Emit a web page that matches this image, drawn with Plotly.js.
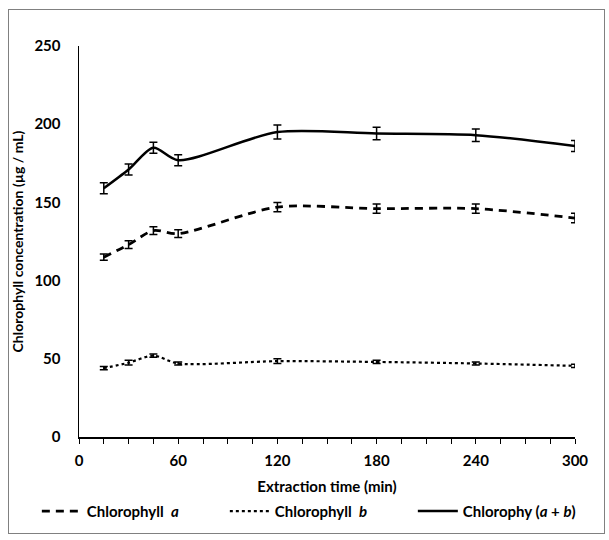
<!DOCTYPE html>
<html><head><meta charset="utf-8">
<script src="https://cdn.plot.ly/plotly-3.0.1.min.js"></script>
<style>
body{margin:0;background:#fff;}
#frame{position:absolute;left:8px;top:9px;width:595px;height:523px;border:1px solid #808080;background:#fff;}
#chart{position:absolute;left:9px;top:10px;width:595px;height:530px;}
</style></head><body>
<div id="frame"></div><div id="chart"></div>
<script>
const time = [15, 30, 45, 60, 120, 180, 240, 300];
const chlA = [115, 123, 132, 130, 147, 146, 146, 140];
const chlAErr = [2, 2.5, 2.5, 2.5, 3, 3, 3, 3];
const chlB = [44, 47.5, 52, 47, 48.5, 48, 47, 45.5];
const chlBErr = [1, 1.5, 1, 1, 1.5, 1, 1, 1];
const chlTotal = [159, 171, 185, 177, 195, 194, 193, 186];
const chlTotalErr = [3.5, 3.5, 3.5, 3.5, 4.5, 4, 4, 3.5];
const names = ['Chlorophyll  <i>a</i>', 'Chlorophyll  <i>b</i>', 'Chlorophy (<i>a</i> + <i>b</i>)'];

const font = "Lato, 'Open Sans', sans-serif";
function tr(y, e, name, dash, w) {
  return {x: time, y: y, name: name, type: 'scatter', mode: 'lines', cliponaxis: false,
    line: {color: '#000', width: w, dash: dash, shape: 'spline', smoothing: 0.8},
    error_y: {type: 'data', array: e, visible: true, color: '#000', thickness: 1.5, width: 4}};
}
const data = [
  tr(chlA, chlAErr, names[0], '8px,6px', 2.8),
  tr(chlB, chlBErr, names[1], 'dot', 2.2),
  tr(chlTotal, chlTotalErr, names[2], 'solid', 2.5)
];
const layout = {
  width: 595, height: 530,
  margin: {l: 70, r: 29, t: 36, b: 103},
  paper_bgcolor: 'rgba(0,0,0,0)', plot_bgcolor: 'rgba(0,0,0,0)',
  font: {family: font, color: '#000', size: 14},
  showlegend: true,
  legend: {orientation: 'h', x: -0.085, xanchor: 'left', y: -0.148, yanchor: 'top', bgcolor: 'rgba(0,0,0,0)',
    font: {family: font, size: 15, color: '#000', weight: 'bold'}, entrywidth: 133, itemwidth: 40},
  xaxis: {range: [0, 300], dtick: 60, tick0: 0, showline: true, linecolor: '#000', linewidth: 1.5,
    ticks: 'outside', ticklen: 5, tickcolor: '#000', showgrid: false, zeroline: false,
    tickfont: {family: font, size: 15, weight: 'bold'}, ticklabelstandoff: 4,
    minor: {dtick: 15, ticks: 'outside', ticklen: 5, tickcolor: '#000', showgrid: false},
    title: {text: 'Extraction time (min)', font: {family: font, size: 15, weight: 'bold'}, standoff: 14}},
  yaxis: {range: [0, 250], dtick: 50, showline: true, linecolor: '#000', linewidth: 1.5,
    ticks: '', showgrid: false, zeroline: false, ticklabelstandoff: 14,
    tickfont: {family: font, size: 15, weight: 'bold'},
    title: {text: 'Chlorophyll concentration (µg / mL)', font: {family: font, size: 14, weight: 'bold'}, standoff: 14}}
};
Plotly.newPlot('chart', data, layout, {displayModeBar: false, staticPlot: true});
</script></body></html>
